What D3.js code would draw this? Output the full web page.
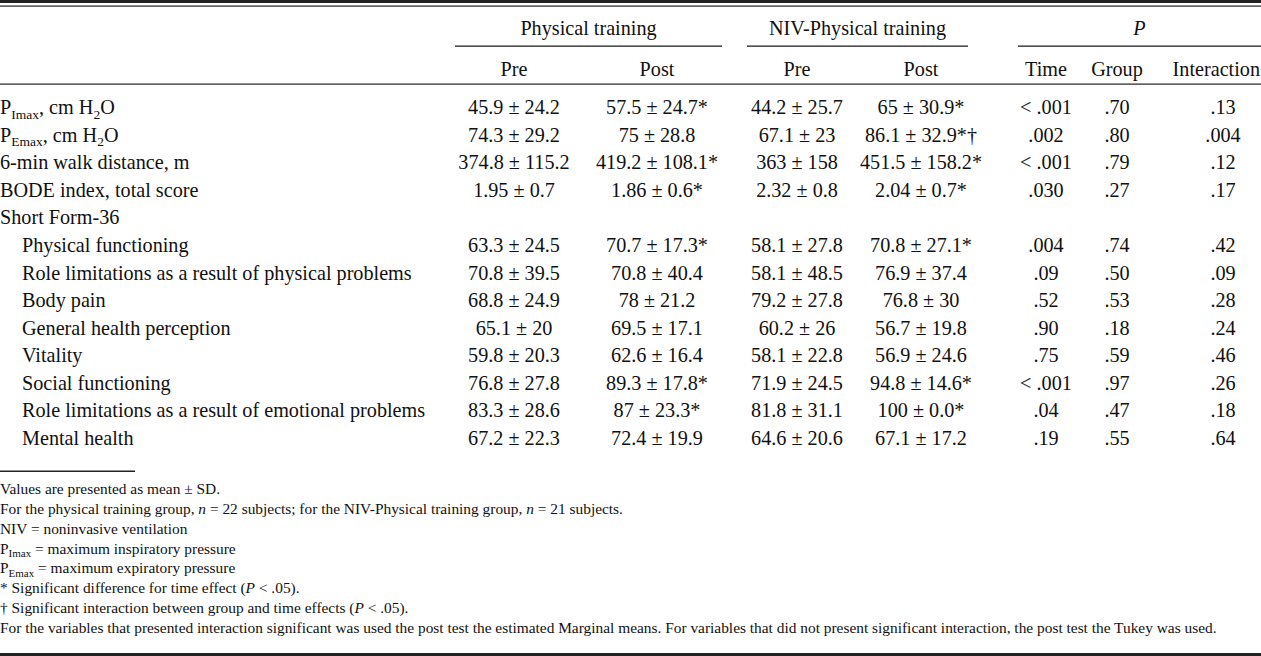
<!DOCTYPE html>
<html><head><meta charset="utf-8">
<script src="https://cdn.jsdelivr.net/npm/d3@7"></script>
<style>
html,body{margin:0;padding:0;background:#fff;}
svg text{font-family:"Liberation Serif","Times New Roman",serif;fill:#111;}
</style></head>
<body>
<svg id="chart" width="1261" height="656"></svg>
<script>
// ---------- data ----------
const groupHeaders = ["Physical training", "NIV-Physical training", "P"];
const columnHeaders = ["Pre", "Post", "Pre", "Post", "Time", "Group", "Interaction"];
const columnKeys = ["ptPre", "ptPost", "nivPre", "nivPost", "pTime", "pGroup", "pInter"];
// label segments: [text, "sub" | ""]
const rowLabels = [
  [["P",""],["Imax","sub"],[", cm H",""],["2","sub"],["O",""]],
  [["P",""],["Emax","sub"],[", cm H",""],["2","sub"],["O",""]],
  [["6-min walk distance, m",""]],
  [["BODE index, total score",""]],
  [["Short Form-36",""]],
  [["Physical functioning",""]],
  [["Role limitations as a result of physical problems",""]],
  [["Body pain",""]],
  [["General health perception",""]],
  [["Vitality",""]],
  [["Social functioning",""]],
  [["Role limitations as a result of emotional problems",""]],
  [["Mental health",""]]
];
const rowIndent = [0,0,0,0,0,1,1,1,1,1,1,1,1];
const ptPre   = ["45.9 ± 24.2","74.3 ± 29.2","374.8 ± 115.2","1.95 ± 0.7","","63.3 ± 24.5","70.8 ± 39.5","68.8 ± 24.9","65.1 ± 20","59.8 ± 20.3","76.8 ± 27.8","83.3 ± 28.6","67.2 ± 22.3"];
const ptPost  = ["57.5 ± 24.7*","75 ± 28.8","419.2 ± 108.1*","1.86 ± 0.6*","","70.7 ± 17.3*","70.8 ± 40.4","78 ± 21.2","69.5 ± 17.1","62.6 ± 16.4","89.3 ± 17.8*","87 ± 23.3*","72.4 ± 19.9"];
const nivPre  = ["44.2 ± 25.7","67.1 ± 23","363 ± 158","2.32 ± 0.8","","58.1 ± 27.8","58.1 ± 48.5","79.2 ± 27.8","60.2 ± 26","58.1 ± 22.8","71.9 ± 24.5","81.8 ± 31.1","64.6 ± 20.6"];
const nivPost = ["65 ± 30.9*","86.1 ± 32.9*†","451.5 ± 158.2*","2.04 ± 0.7*","","70.8 ± 27.1*","76.9 ± 37.4","76.8 ± 30","56.7 ± 19.8","56.9 ± 24.6","94.8 ± 14.6*","100 ± 0.0*","67.1 ± 17.2"];
const pTime   = ["< .001",".002","< .001",".030","",".004",".09",".52",".90",".75","< .001",".04",".19"];
const pGroup  = [".70",".80",".79",".27","",".74",".50",".53",".18",".59",".97",".47",".55"];
const pInter  = [".13",".004",".12",".17","",".42",".09",".28",".24",".46",".26",".18",".64"];
// footnotes: segments [text, style] style: "" | "i" (italic) | "sub"
const footnotes = [
  [["Values are presented as mean ± SD.",""]],
  [["For the physical training group, ",""],["n","i"],[" = 22 subjects; for the NIV-Physical training group, ",""],["n","i"],[" = 21 subjects.",""]],
  [["NIV = noninvasive ventilation",""]],
  [["P",""],["Imax","sub"],[" = maximum inspiratory pressure",""]],
  [["P",""],["Emax","sub"],[" = maximum expiratory pressure",""]],
  [["* Significant difference for time effect (",""],["P","i"],[" < .05).",""]],
  [["† Significant interaction between group and time effects (",""],["P","i"],[" < .05).",""]],
  [["For the variables that presented interaction significant was used the post test the estimated Marginal means. For variables that did not present significant interaction, the post test the Tukey was used.",""]]
];

// ---------- layout ----------
const svg = d3.select("#chart");
const W = 1261;
const FS = 20.2;   // body font size
const FN = 15.4;   // footnote font size

const colX = d3.scaleOrdinal().domain(columnKeys).range([514, 657, 797, 921, 1046, 1117, 1223]);
const groupSpan = [[455, 722], [747, 968], [1018, 1261]];
const rowY = d3.scalePoint().domain(d3.range(rowLabels.length)).range([107, 438]);
const noteY = d3.scalePoint().domain(d3.range(footnotes.length)).range([489, 628]);

const cols = {ptPre, ptPost, nivPre, nivPost, pTime, pGroup, pInter};

// rules
svg.append("rect").attr("x",0).attr("y",0).attr("width",W).attr("height",3).attr("fill","#222");
svg.append("rect").attr("x",0).attr("y",5.5).attr("width",W).attr("height",1.2).attr("fill","#222");
svg.append("rect").attr("x",0).attr("y",83.5).attr("width",W).attr("height",1.2).attr("fill","#222");
svg.append("rect").attr("x",0).attr("y",470.5).attr("width",135).attr("height",1.5).attr("fill","#222");
svg.append("rect").attr("x",0).attr("y",653).attr("width",W).attr("height",3).attr("fill","#222");

// group headers
svg.selectAll("rect.gline").data(groupSpan).join("rect").attr("class","gline")
  .attr("x", d => d[0]).attr("y", 45.5).attr("width", d => d[1]-d[0]).attr("height", 1.3).attr("fill","#222");
svg.selectAll("text.gh").data(groupHeaders).join("text").attr("class","gh")
  .attr("x", (d,i) => (groupSpan[i][0]+groupSpan[i][1])/2).attr("y", 35)
  .attr("text-anchor","middle").attr("font-size",FS)
  .attr("font-style", (d,i) => i===2 ? "italic" : "normal")
  .text(d => d);

// column headers
svg.selectAll("text.ch").data(columnHeaders).join("text").attr("class","ch")
  .attr("x", (d,i) => i === columnHeaders.length-1 ? W - 1 : colX(columnKeys[i])).attr("y", 76)
  .attr("text-anchor", (d,i) => i === columnHeaders.length-1 ? "end" : "middle")
  .attr("font-size",FS).text(d => d);

// row labels
const lab = svg.selectAll("text.rl").data(rowLabels).join("text").attr("class","rl")
  .attr("x", (d,i) => rowIndent[i] ? 22 : 0).attr("y", (d,i) => rowY(i) + 7)
  .attr("font-size",FS);
lab.each(function(segs){
  const t = d3.select(this);
  let prevSub = false;
  segs.forEach(([s, st]) => {
    const ts = t.append("tspan").text(s);
    if (st === "sub") { ts.attr("font-size",13.5).attr("dy", prevSub ? 0 : 4.5); prevSub = true; }
    else { if (prevSub) ts.attr("dy",-4.5); prevSub = false; }
  });
});

// cells
columnKeys.forEach(k => {
  svg.selectAll("text.c-"+k).data(cols[k]).join("text").attr("class","c-"+k)
    .attr("x", colX(k)).attr("y", (d,i) => rowY(i) + 7)
    .attr("text-anchor","middle").attr("font-size",FS).text(d => d);
});

// footnotes
const fn = svg.selectAll("text.fn").data(footnotes).join("text").attr("class","fn")
  .attr("x",0).attr("y",(d,i) => noteY(i) + 5).attr("font-size",FN);
fn.each(function(segs){
  const t = d3.select(this);
  let prevSub = false;
  segs.forEach(([s, st]) => {
    const ts = t.append("tspan").text(s);
    if (st === "i") ts.attr("font-style","italic");
    if (st === "sub") { ts.attr("font-size",11).attr("dy", 3.5); prevSub = true; }
    else { if (prevSub) ts.attr("dy",-3.5); prevSub = false; }
  });
});
</script>
</body></html>
